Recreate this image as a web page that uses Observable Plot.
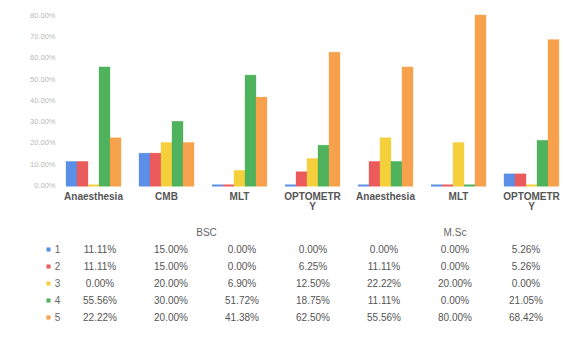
<!DOCTYPE html>
<html><head><meta charset="utf-8">
<script src="https://cdn.jsdelivr.net/npm/d3@7"></script>
<script src="https://cdn.jsdelivr.net/npm/@observablehq/plot@0.6"></script>
<style>
body{margin:0;background:#fff;font-family:"Liberation Sans",Arial,sans-serif;}
#c svg{display:block;}
</style></head>
<body><div id="c"></div>
<script>
const categories = ["Anaesthesia","CMB","MLT","OPTOMETRY","Anaesthesia","MLT","OPTOMETRY"];
const categoryLabels = ["Anaesthesia","CMB","MLT","OPTOMETR\nY","Anaesthesia","MLT","OPTOMETR\nY"];
const groups = ["BSC","BSC","BSC","BSC","M.Sc","M.Sc","M.Sc"];
const series = ["1","2","3","4","5"];
const s1 = [11.11,15.00,0.00,0.00,0.00,0.00,5.26];
const s2 = [11.11,15.00,0.00,6.25,11.11,0.00,5.26];
const s3 = [0.00,20.00,6.90,12.50,22.22,20.00,0.00];
const s4 = [55.56,30.00,51.72,18.75,11.11,0.00,21.05];
const s5 = [22.22,20.00,41.38,62.50,55.56,80.00,68.42];
const yTicks = [0,10,20,30,40,50,60,70,80];
const colors = ["#5b8ee6","#ec5b5b","#f5d03c","#4fb25c","#f7a14c"];

const values = [s1,s2,s3,s4,s5];
const keys = categories.map((c,i)=>String(i));
const rows = [];
values.forEach((arr,si)=>arr.forEach((v,ci)=>rows.push({key:keys[ci],series:series[si],value:v})));

const W = 563, ML = 64, MR = 2;
const font = "Liberation Sans, Arial, sans-serif";

const chart = Plot.plot({
  width: W, height: 215,
  marginLeft: ML, marginRight: MR, marginTop: 15, marginBottom: 30,
  style:{fontFamily:font, background:"#fff"},
  fx:{domain:keys, padding:0.2, label:null},
  x:{domain:series, padding:0, axis:null},
  y:{domain:[0,80], label:null},
  color:{domain:series, range:colors},
  marks:[
    Plot.axisY({ticks:yTicks, tickFormat:d=>d.toFixed(2)+"%", tickSize:0, tickPadding:9, fontSize:7.5, fill:"#b8b8b8", label:null}),
    Plot.axisFx({anchor:"bottom", tickFormat:k=>categoryLabels[+k], tickSize:0, tickPadding:7, fontSize:10, fontWeight:"bold", fill:"#555", label:null}),
    Plot.barY(rows,{fx:"key", x:"series", y:"value", fill:"series", stroke:"series", strokeWidth:0.6, strokeOpacity:0.5}),
    Plot.tickY(rows,{fx:"key", x:"series", y:0, stroke:"series", strokeWidth:2})
  ]
});

// table below
const tableRows = [];
values.forEach((arr,si)=>arr.forEach((v,ci)=>tableRows.push({x:ci+0.5, row:series[si], text:v.toFixed(2)+"%"})));
const groupNames = Array.from(new Set(groups));
const headers = groupNames.map(g=>{
  const idx = groups.map((gg,i)=>gg===g?i+0.5:null).filter(d=>d!==null);
  return {x:d3.mean(idx), row:"hdr", text:g};
});
const legendRows = series.map((s,i)=>({x:0,row:s,series:s}));

const table = Plot.plot({
  width: W, height: 124,
  marginLeft: ML, marginRight: MR, marginTop: 15, marginBottom: 20,
  style:{fontFamily:font, background:"#fff"},
  x:{domain:[0,categories.length], axis:null},
  y:{type:"point", domain:["hdr",...series], padding:0, axis:null},
  color:{domain:series, range:colors},
  marks:[
    Plot.text(headers,{x:"x", y:"row", text:"text", fontSize:10, fill:"#666"}),
    Plot.text(tableRows,{x:"x", y:"row", text:"text", fontSize:10, fill:"#555"}),
    Plot.dot(legendRows,{x:"x", y:"row", fill:"series", symbol:"square", r:2.3, dx:-16}),
    Plot.text(legendRows,{x:"x", y:"row", text:"series", fill:"#666", fontSize:10, dx:-7})
  ]
});

const c = document.getElementById("c");
c.appendChild(chart);
c.appendChild(table);
</script>
</body></html>
